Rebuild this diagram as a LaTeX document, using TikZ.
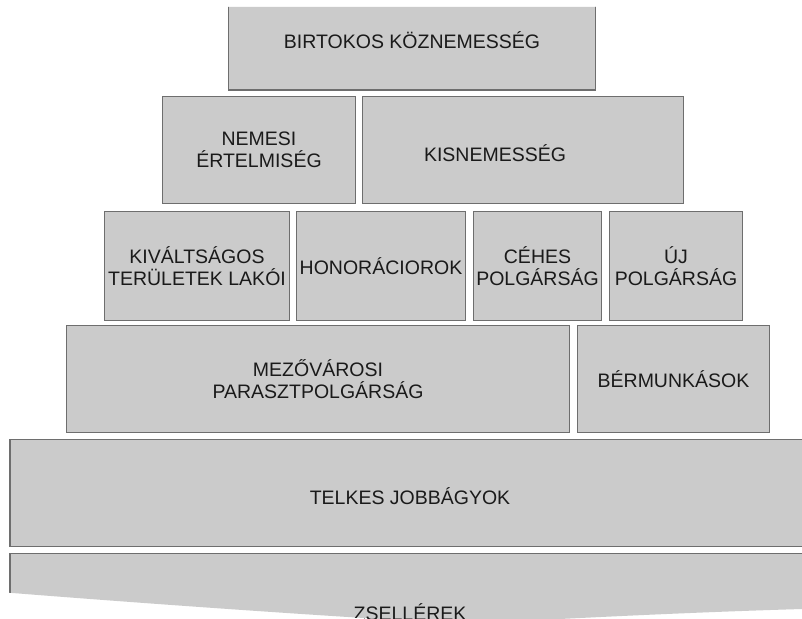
\documentclass[tikz,border=0pt]{standalone}
\usepackage{fontspec}
\setmainfont{Liberation Sans}
\definecolor{boxfill}{HTML}{CBCBCB}
\definecolor{boxline}{HTML}{6E6E6E}
\definecolor{txt}{HTML}{1A1A1A}
\begin{document}
\begin{tikzpicture}[x=1pt,y=-1pt,
  box/.style={draw=boxline, fill=boxfill, line width=1.6pt, inner sep=0pt,
    text=txt, align=center, font=\fontsize{19.5}{22}\selectfont},
  lbl/.style={text=txt, align=center, inner sep=0pt, font=\fontsize{19.5}{22}\selectfont}]
\useasboundingbox (0,0) rectangle (802,618);
\fill[white] (0,0) rectangle (802,618);
\begin{scope}
\clip (0,7) -- (802,7) -- (802,609) .. controls (700,612) and (600,617) .. (560,619)
  -- (380,619) .. controls (250,611) and (100,600) .. (0,592) -- cycle;
% row 1
\node[box, minimum width=367pt, minimum height=112pt] (birt) at (412,34) {};
\node[lbl] (birtt) at (412,40) {BIRTOKOS KÖZNEMESSÉG};
% row 2
\node[box, minimum width=193pt, minimum height=107pt] (nem) at (259,150) {NEMESI\\ÉRTELMISÉG};
\node[box, minimum width=321pt, minimum height=107pt] (kis) at (523,150) {};
\node[lbl] (kist) at (495,153) {KISNEMESSÉG};
% row 3
\node[box, minimum width=185pt, minimum height=109pt] (kiv) at (197,266) {KIVÁLTSÁGOS\\TERÜLETEK LAKÓI};
\node[box, minimum width=169pt, minimum height=109pt] (hon) at (381,266) {HONORÁCIOROK};
\node[box, minimum width=128pt, minimum height=109pt] (ceh) at (537.5,266) {CÉHES\\POLGÁRSÁG};
\node[box, minimum width=133pt, minimum height=109pt] (uj) at (676,266) {ÚJ\\POLGÁRSÁG};
% row 4
\node[box, minimum width=503pt, minimum height=107pt] (mez) at (318,379) {MEZŐVÁROSI\\PARASZTPOLGÁRSÁG};
\node[box, minimum width=192pt, minimum height=107pt] (ber) at (673.5,379) {BÉRMUNKÁSOK};
% row 5
\node[box, minimum width=840pt, minimum height=107pt] (tel) at (430,493) {};
\node[lbl] (telt) at (410,496) {TELKES JOBBÁGYOK};
% row 6
\node[box, minimum width=840pt, minimum height=107pt] (zse) at (430,607) {};
\node[lbl] (zset) at (410,612) {ZSELLÉREK};
\end{scope}
\end{tikzpicture}
\end{document}
